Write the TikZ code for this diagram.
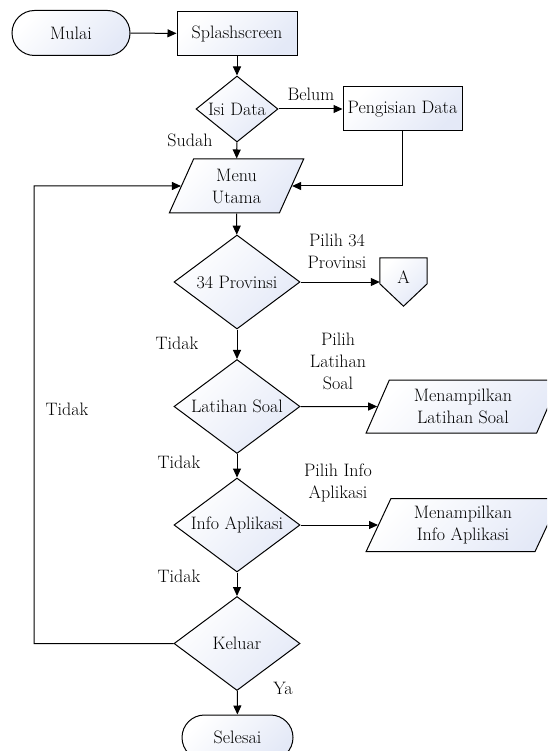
\documentclass[tikz,border=0pt]{standalone}
\usetikzlibrary{shapes.geometric,shapes.misc,arrows.meta,calc}
\definecolor{shadeblue}{RGB}{228,233,247}
\tikzset{
  box fill/.style={top color=white, bottom color=shadeblue, shading angle=45},
  term/.style={rounded rectangle, draw, box fill, line width=1pt, minimum width=118, minimum height=45, inner sep=0},
  proc/.style={rectangle, draw, box fill, line width=1pt, minimum width=120, minimum height=44, inner sep=0},
  dec/.style={diamond, draw, box fill, line width=1pt, minimum width=126, minimum height=94, inner sep=0, label={center:#1}},
  io/.style={trapezium, trapezium left angle=68, trapezium right angle=112, trapezium stretches=true,
             draw, box fill, line width=1pt, align=center, minimum width=135, minimum height=54, inner sep=0},
  iowide/.style={io, trapezium left angle=66, trapezium right angle=114, minimum width=194, minimum height=53},
  conn/.style={draw, line width=1pt, -{Triangle[length=9pt,width=8pt]}},
  lbl/.style={inner sep=0, align=center},
}
\begin{document}
\begin{tikzpicture}[x=1pt, y=-1pt, font=\fontsize{18}{22}\selectfont]
\useasboundingbox (0,0) rectangle (547,751);
\clip (0,0) rectangle (547,751);

% flowchart symbols
\node[term] (mulai) at (71,33) {Mulai};
\node[proc] (splash) at (237,33.5) {Splashscreen};
\node[dec={Isi Data}, minimum width=82, minimum height=66] (isi) at (237,109) {};
\node[proc, minimum width=119] (pd) at (402.5,109) {Pengisian Data};
\node[io] (menu) at (236.5,186) {Menu\\Utama};
\node[dec={34 Provinsi}] (d1) at (237,282) {};
\node[dec={Latihan Soal}] (d2) at (237,406.5) {};
\node[iowide] (ml) at (463,406.5) {Menampilkan\\Latihan Soal};
\node[dec={Info Aplikasi}] (d3) at (237,525) {};
\node[iowide] (mi) at (463,525) {Menampilkan\\Info Aplikasi};
\node[dec=Keluar] (d4) at (237,643.5) {};
\node[term, minimum width=111] (sel) at (237.5,737.5) {Selesai};

% off-page connector A
\node[inner sep=0, minimum width=47, minimum height=48] (A) at (403.5,282) {};
\path[draw, box fill, line width=1pt]
  (A.north west) -- (A.north east) -- ($(A.north east)+(0,26)$)
  -- (A.south) -- ($(A.north west)+(0,26)$) -- cycle;
\node[inner sep=0] (Atext) at ($(A.center)+(0,-5)$) {A};

\coordinate (back) at (34,186);

% connectors
\draw[conn] (mulai) -- (splash);
\draw[conn] (splash) -- (isi);
\draw[conn] (isi) -- (pd);
\draw[conn] (isi) -- (menu);
\draw[conn] (pd.south) |- (menu);
\draw[conn] (menu) -- (d1);
\draw[conn] (d1) -- (A);
\draw[conn] (d1) -- (d2);
\draw[conn] (d2) -- (ml);
\draw[conn] (d2) -- (d3);
\draw[conn] (d3) -- (mi);
\draw[conn] (d3) -- (d4);
\draw[conn] (d4) -- (sel);
\draw[conn] (d4.west) -| (back) -- (menu);

% connector labels
\node[lbl] (tBelum) at (311,94) {Belum};
\node[lbl] (tSudah) at (190,140) {Sudah};
\node[lbl] (tP34) at (337,251) {Pilih 34\\Provinsi};
\node[lbl] (tT1) at (177,343) {Tidak};
\node[lbl] (tPL) at (338,361) {Pilih\\Latihan\\Soal};
\node[lbl] (tT2) at (179,462) {Tidak};
\node[lbl] (tPI) at (338,483) {Pilih Info\\Aplikasi};
\node[lbl] (tT3) at (179,576) {Tidak};
\node[lbl] (tYa) at (283,688) {Ya};
\node[lbl] (tT4) at (67,409) {Tidak};
\end{tikzpicture}
\end{document}
